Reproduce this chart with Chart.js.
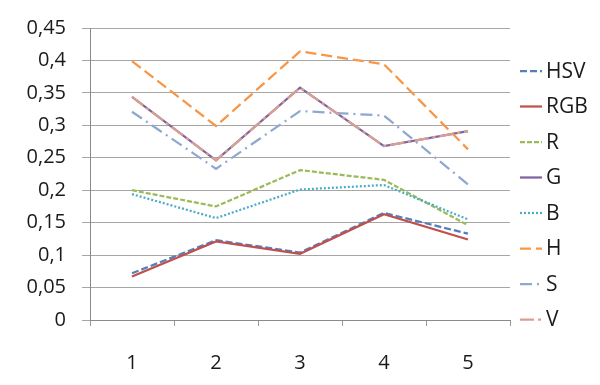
<!DOCTYPE html>
<html>
<head>
<meta charset="utf-8">
<script src="https://cdn.jsdelivr.net/npm/chart.js@4/dist/chart.umd.min.js"></script>
<style>
  html, body { margin: 0; padding: 0; background: #ffffff; }
  #wrap { width: 600px; height: 385px; position: relative; }
</style>
</head>
<body>
<div id="wrap"><canvas id="c" width="600" height="385"></canvas></div>
<script>
const categories = ['1', '2', '3', '4', '5'];
const yTickLabels = ['0', '0,05', '0,1', '0,15', '0,2', '0,25', '0,3', '0,35', '0,4', '0,45'];
const seriesNames = ['HSV', 'RGB', 'R', 'G', 'B', 'H', 'S', 'V'];

const hsvValues = [0.072, 0.123, 0.104, 0.165, 0.133];
const rgbValues = [0.067, 0.121, 0.102, 0.163, 0.124];
const rValues   = [0.200, 0.175, 0.231, 0.216, 0.146];
const gValues   = [0.344, 0.246, 0.358, 0.268, 0.291];
const bValues   = [0.194, 0.157, 0.201, 0.208, 0.155];
const hValues   = [0.399, 0.299, 0.414, 0.394, 0.263];
const sValues   = [0.321, 0.233, 0.322, 0.315, 0.209];
const vValues   = [0.344, 0.246, 0.358, 0.268, 0.291];

const seriesValues = [hsvValues, rgbValues, rValues, gValues, bValues, hValues, sValues, vValues];
const seriesColors = ['#4F81BD', '#C0504D', '#9BBB59', '#8064A2', '#4BACC6', '#F79646', '#8FA8CF', '#D9A092'];
const seriesDashes = [[7, 3], [], [5, 2], [], [2, 2], [11, 5], [12, 5, 2, 5], [14, 4, 3, 4]];

const datasets = seriesNames.map((name, i) => ({
  label: name,
  data: seriesValues[i],
  borderColor: seriesColors[i],
  backgroundColor: seriesColors[i],
  borderDash: seriesDashes[i],
  borderWidth: 2.25,
  borderCapStyle: 'butt',
  pointRadius: 0,
  pointHoverRadius: 0,
  tension: 0,
  fill: false,
  order: seriesNames.length - i
}));

const legendPlugin = {
  id: 'sideLegend',
  afterDraw(chart) {
    const ctx = chart.ctx;
    ctx.save();
    ctx.font = '21px "Open Sans"';
    ctx.textBaseline = 'middle';
    ctx.textAlign = 'left';
    chart.data.datasets.forEach((ds, i) => {
      const y = 71 + i * 35.5;
      ctx.beginPath();
      ctx.setLineDash(ds.borderDash || []);
      ctx.strokeStyle = ds.borderColor;
      ctx.lineWidth = ds.borderWidth;
      ctx.moveTo(520, y);
      ctx.lineTo(542, y);
      ctx.stroke();
      ctx.setLineDash([]);
      ctx.fillStyle = '#1a1a1a';
      ctx.fillText(ds.label, 546, y + 1);
    });
    ctx.restore();
  }
};

new Chart(document.getElementById('c'), {
  type: 'line',
  data: { labels: categories, datasets: datasets },
  options: {
    responsive: false,
    animation: false,
    devicePixelRatio: 1,
    layout: { padding: { top: 22, right: 90, bottom: 0, left: 0 } },
    plugins: { legend: { display: false }, tooltip: { enabled: false } },
    scales: {
      x: {
        type: 'category',
        offset: true,
        grid: {
          offset: true,
          drawOnChartArea: false,
          drawTicks: true,
          tickLength: 6,
          color: '#9a9a9a'
        },
        border: { color: '#8a8a8a', width: 1 },
        ticks: {
          font: { family: '"Open Sans"', size: 20 },
          color: '#1a1a1a',
          padding: 25,
          maxRotation: 0
        },
        afterFit(scale) { scale.height = 65; }
      },
      y: {
        min: 0,
        max: 0.45,
        grid: {
          color: '#a6a6a6',
          drawTicks: true,
          tickLength: 8
        },
        border: { color: '#8a8a8a', width: 1 },
        ticks: {
          stepSize: 0.05,
          font: { family: '"Open Sans"', size: 20 },
          color: '#1a1a1a',
          padding: 16,
          callback: (v, i) => yTickLabels[i]
        },
        afterFit(scale) { scale.width = 90; }
      }
    }
  },
  plugins: [legendPlugin]
});
</script>
</body>
</html>
